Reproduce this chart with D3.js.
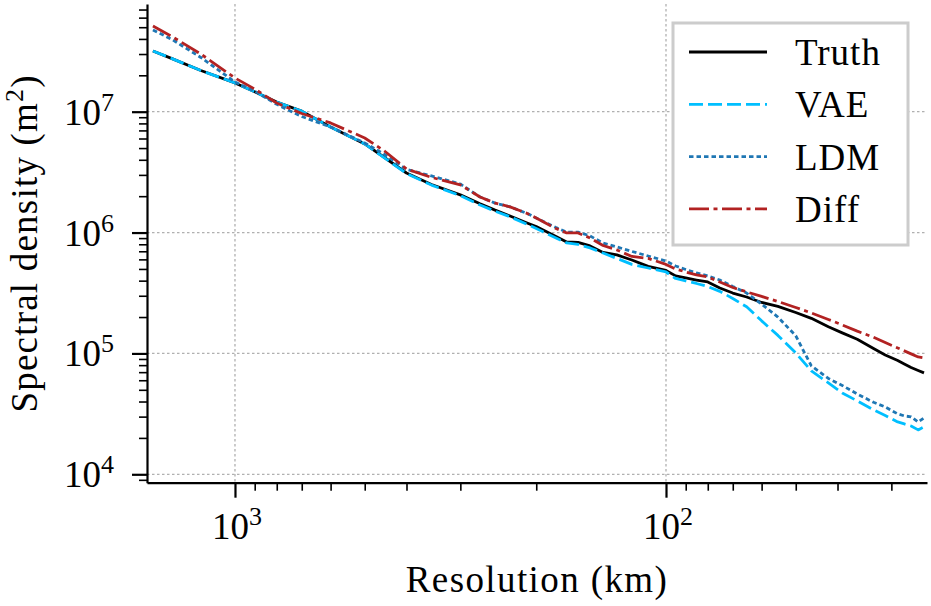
<!DOCTYPE html>
<html>
<head>
<meta charset="utf-8">
<script src="https://cdn.jsdelivr.net/npm/d3@7"></script>
<style>
  body { margin: 0; background: #fff; }
</style>
</head>
<body>
<svg id="chart"></svg>
<script>
// Resolution (km) of every sample, shared by all series
const resolutionKm = [1550, 1400, 1200, 1000, 900, 800, 700, 600, 500, 450, 400, 350, 300,
    270, 250, 230, 210, 200, 180, 170, 160, 150, 140, 130, 120, 110, 100,
    95, 90, 85, 80, 75, 70, 65, 60, 55, 50, 46, 42, 39, 36, 33, 31, 29, 28, 27, 26, 25.2];

// Spectral density (m^2)
const truthDensity = [3.18e7, 2.75e7, 2.19e7, 1.73e7, 1.46e7, 1.20e7, 1.01e7, 7.47e6, 5.41e6, 4.18e6, 3.11e6, 2.50e6, 2.05e6,
    1.73e6, 1.54e6, 1.37e6, 1.20e6, 1.12e6, 9.29e5, 8.36e5, 8.28e5, 7.75e5, 6.84e5, 6.53e5, 5.93e5, 5.25e5, 4.86e5,
    4.38e5, 4.21e5, 4.05e5, 3.90e5, 3.48e5, 3.16e5, 2.93e5, 2.64e5, 2.45e5, 2.18e5, 1.95e5, 1.66e5, 1.48e5, 1.31e5,
    1.10e5, 9.72e4, 8.75e4, 8.19e4, 7.66e4, 7.23e4, 6.90e4];

const vaeDensity = [3.18e7, 2.75e7, 2.19e7, 1.73e7, 1.46e7, 1.20e7, 1.01e7, 7.47e6, 5.41e6, 4.15e6, 3.08e6, 2.47e6, 2.02e6,
    1.69e6, 1.51e6, 1.35e6, 1.17e6, 1.08e6, 9.02e5, 8.20e5, 7.98e5, 7.46e5, 6.78e5, 6.11e5, 5.45e5, 5.09e5, 4.72e5,
    4.17e5, 3.98e5, 3.79e5, 3.58e5, 3.26e5, 2.85e5, 2.43e5, 1.86e5, 1.41e5, 1.01e5, 7.16e4, 5.70e4, 4.71e4, 4.05e4,
    3.41e4, 3.07e4, 2.71e4, 2.61e4, 2.51e4, 2.33e4, 2.47e4];

const ldmDensity = [4.74e7, 3.96e7, 2.81e7, 1.76e7, 1.48e7, 1.15e7, 9.12e6, 7.47e6, 5.51e6, 4.43e6, 3.33e6, 2.94e6, 2.52e6,
    1.97e6, 1.76e6, 1.63e6, 1.44e6, 1.32e6, 1.10e6, 1.01e6, 1.01e6, 9.37e5, 8.20e5, 7.60e5, 6.98e5, 6.40e5, 5.82e5,
    5.29e5, 4.95e5, 4.63e5, 4.38e5, 4.05e5, 3.58e5, 3.16e5, 2.56e5, 2.00e5, 1.40e5, 7.88e4, 6.21e4, 5.43e4, 4.62e4,
    3.94e4, 3.61e4, 3.16e4, 3.04e4, 2.99e4, 2.71e4, 2.93e4];

const diffDensity = [5.11e7, 4.19e7, 3.00e7, 1.90e7, 1.54e7, 1.18e7, 9.66e6, 8.07e6, 6.06e6, 4.73e6, 3.36e6, 2.86e6, 2.48e6,
    1.97e6, 1.76e6, 1.63e6, 1.44e6, 1.32e6, 1.08e6, 9.93e5, 9.93e5, 9.02e5, 7.82e5, 7.18e5, 6.34e5, 6.11e5, 5.45e5,
    5.00e5, 4.72e5, 4.46e5, 4.29e5, 3.90e5, 3.51e5, 3.23e5, 2.96e5, 2.69e5, 2.40e5, 2.16e5, 1.91e5, 1.72e5, 1.53e5,
    1.36e5, 1.23e5, 1.11e5, 1.05e5, 9.91e4, 9.35e4, 9.18e4];

const seriesNames = ["Truth", "VAE", "LDM", "Diff"];
const xMajorTicks = [1000, 100];
const yMajorTicks = [1e4, 1e5, 1e6, 1e7];
const xLabel = "Resolution (km)";
const yLabel = "Spectral density (m";
const yLabelSup = "2";

class SpectrumPlot {

    constructor(_config, _data) {
        this.config = {
            parentElement: _config.parentElement,
            width: 931,
            height: 606,
            plot: { left: 147, right: 927, top: 4, bottom: 482.7 },
            xDomain: [1600, 24.8],
            yDomain: [8520, 7.78e7],
            fontFamily: "'Liberation Serif', 'DejaVu Serif', 'Times New Roman', Times, serif",
            fontSize: 37,
            supSize: 26,
            styles: {
                Truth: { color: "#000000", dash: null },
                VAE: { color: "#00bfff", dash: "14,5" },
                LDM: { color: "#1f77b4", dash: "4.5,3" },
                Diff: { color: "#b22222", dash: "20,4.5,4,4.5" }
            },
            legend: { x: 673, y: 23, w: 235, h: 222, firstRow: 52, rowGap: 52.3 }
        };
        this.data = _data;
        this.initVis();
    }

    initVis() {
        let vis = this;
        const c = vis.config;

        vis.svg = d3.select(c.parentElement)
            .attr("width", c.width)
            .attr("height", c.height)
            .attr("font-family", c.fontFamily);

        vis.xScale = d3.scaleLog().domain(c.xDomain).range([c.plot.left, c.plot.right]);
        vis.yScale = d3.scaleLog().domain(c.yDomain).range([c.plot.bottom, c.plot.top]);

        // minor ticks = every 2..9 x 10^k inside the domain
        const isMajor = v => Math.abs(Math.log10(v) - Math.round(Math.log10(v))) < 1e-9;
        vis.xMinor = vis.xScale.ticks().filter(v => !isMajor(v));
        vis.yMinor = vis.yScale.ticks().filter(v => !isMajor(v));

        vis.gridG = vis.svg.append("g").attr("class", "grid");
        vis.linesG = vis.svg.append("g").attr("class", "lines");
        vis.axesG = vis.svg.append("g").attr("class", "axes");
        vis.legendG = vis.svg.append("g").attr("class", "legend");

        vis.updateVis();
    }

    updateVis() {
        let vis = this;

        vis.series = seriesNames.map((name, i) => ({
            name: name,
            values: resolutionKm.map((r, j) => ({ res: r, val: vis.data[i][j] }))
        }));

        vis.line = d3.line()
            .x(d => vis.xScale(d.res))
            .y(d => vis.yScale(d.val));

        vis.renderVis();
    }

    renderVis() {
        let vis = this;
        const c = vis.config;

        // dotted grid at major ticks
        vis.gridG.selectAll(".hgrid")
            .data(yMajorTicks)
            .join("line")
            .attr("class", "hgrid")
            .attr("x1", c.plot.left).attr("x2", c.plot.right)
            .attr("y1", d => vis.yScale(d)).attr("y2", d => vis.yScale(d));

        vis.gridG.selectAll(".vgrid")
            .data(xMajorTicks)
            .join("line")
            .attr("class", "vgrid")
            .attr("x1", d => vis.xScale(d)).attr("x2", d => vis.xScale(d))
            .attr("y1", c.plot.top).attr("y2", c.plot.bottom);

        vis.gridG.selectAll("line")
            .attr("stroke", "#b0b0b0")
            .attr("stroke-width", 1.3)
            .attr("stroke-dasharray", "2.5,2.5");

        // series
        vis.linesG.selectAll("path")
            .data(vis.series)
            .join("path")
            .attr("d", d => vis.line(d.values))
            .attr("fill", "none")
            .attr("stroke", d => c.styles[d.name].color)
            .attr("stroke-width", 2.8)
            .attr("stroke-dasharray", d => c.styles[d.name].dash)
            .attr("stroke-linejoin", "round");

        // axes: left and bottom spines only
        const yMajorAxis = d3.axisLeft(vis.yScale).tickValues(yMajorTicks).tickSize(15).tickSizeOuter(0).tickFormat("");
        const yMinorAxis = d3.axisLeft(vis.yScale).tickValues(vis.yMinor).tickSize(8).tickSizeOuter(0).tickFormat("");
        const xMajorAxis = d3.axisBottom(vis.xScale).tickValues(xMajorTicks).tickSize(15).tickSizeOuter(0).tickFormat("");
        const xMinorAxis = d3.axisBottom(vis.xScale).tickValues(vis.xMinor).tickSize(8).tickSizeOuter(0).tickFormat("");

        const yAxisG = vis.axesG.append("g").attr("transform", `translate(${c.plot.left},0)`);
        yAxisG.append("g").call(yMinorAxis).call(g => g.select(".domain").remove())
            .selectAll("line").attr("stroke-width", 1.6);
        yAxisG.append("g").call(yMajorAxis)
            .call(g => g.select(".domain").attr("stroke-width", 2.2))
            .selectAll("line").attr("stroke-width", 2.2);

        const xAxisG = vis.axesG.append("g").attr("transform", `translate(0,${c.plot.bottom})`);
        xAxisG.append("g").call(xMinorAxis).call(g => g.select(".domain").remove())
            .selectAll("line").attr("stroke-width", 1.6);
        xAxisG.append("g").call(xMajorAxis)
            .call(g => g.select(".domain").attr("stroke-width", 2.2))
            .selectAll("line").attr("stroke-width", 2.2);

        // axis() sets its own font on the groups; put ours back
        vis.axesG.selectAll("g").attr("font-family", c.fontFamily);

        // power-of-ten tick labels
        vis.axesG.selectAll(".ylab")
            .data(yMajorTicks)
            .join("text")
            .attr("class", "ylab")
            .attr("x", c.plot.left - 33)
            .attr("y", d => vis.yScale(d) + 13)
            .attr("text-anchor", "end")
            .attr("font-size", c.fontSize)
            .each(function (d) {
                d3.select(this).append("tspan").text("10");
                d3.select(this).append("tspan").attr("dy", -14).attr("font-size", c.supSize)
                    .text(Math.round(Math.log10(d)));
            });

        vis.axesG.selectAll(".xlab")
            .data(xMajorTicks)
            .join("text")
            .attr("class", "xlab")
            .attr("x", d => vis.xScale(d) + 2)
            .attr("y", c.plot.bottom + 56)
            .attr("text-anchor", "middle")
            .attr("font-size", c.fontSize)
            .each(function (d) {
                d3.select(this).append("tspan").text("10");
                d3.select(this).append("tspan").attr("dy", -14).attr("font-size", c.supSize)
                    .text(Math.round(Math.log10(d)));
            });

        // axis titles
        vis.axesG.append("text")
            .attr("x", (c.plot.left + c.plot.right) / 2)
            .attr("y", 592)
            .attr("text-anchor", "middle")
            .attr("font-size", c.fontSize)
            .attr("letter-spacing", 1.4)
            .text(xLabel);

        const yTitle = vis.axesG.append("text")
            .attr("transform", `translate(37,${(c.plot.top + c.plot.bottom) / 2}) rotate(-90)`)
            .attr("text-anchor", "middle")
            .attr("font-size", c.fontSize)
            .attr("letter-spacing", 1.2);
        yTitle.append("tspan").text(yLabel);
        yTitle.append("tspan").attr("dy", -14).attr("font-size", c.supSize).text(yLabelSup);
        yTitle.append("tspan").attr("dy", 14).text(")");

        // legend
        const L = c.legend;
        vis.legendG.append("rect")
            .attr("x", L.x).attr("y", L.y)
            .attr("width", L.w).attr("height", L.h)
            .attr("fill", "#fff")
            .attr("stroke", "#cccccc")
            .attr("stroke-width", 3);

        const rows = vis.legendG.selectAll(".row")
            .data(seriesNames)
            .join("g")
            .attr("class", "row")
            .attr("transform", (d, i) => `translate(0,${L.firstRow + i * L.rowGap})`);

        rows.append("line")
            .attr("x1", L.x + 16).attr("x2", L.x + 94)
            .attr("stroke", d => c.styles[d].color)
            .attr("stroke-width", 2.8)
            .attr("stroke-dasharray", d => c.styles[d].dash);

        rows.append("text")
            .attr("x", L.x + 122)
            .attr("y", 13)
            .attr("font-size", c.fontSize)
            .attr("letter-spacing", 1)
            .text(d => d);
    }
}

const plot = new SpectrumPlot({ parentElement: "#chart" },
    [truthDensity, vaeDensity, ldmDensity, diffDensity]);
</script>
</body>
</html>
